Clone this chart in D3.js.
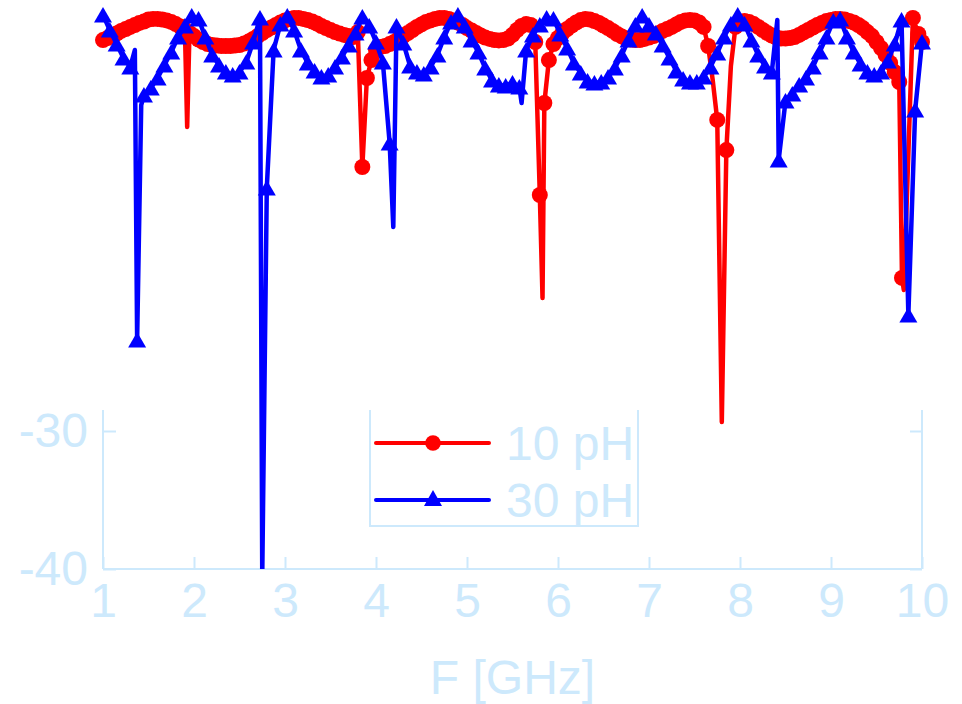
<!DOCTYPE html>
<html><head><meta charset="utf-8">
<script src="https://cdn.jsdelivr.net/npm/d3@7"></script>
<style>html,body{margin:0;padding:0;background:#fff;} svg{display:block;}</style>
</head><body>
<svg id="chart" width="962" height="704"></svg>
<script>
// ---------- data ----------
const xTicks = [1,2,3,4,5,6,7,8,9,10];
const yTicks = [-30,-40];
const seriesNames = ["10 pH","30 pH"];
const xLabel = "F [GHz]";

// 10 pH : [frequency GHz, dB]
const s10 = [
[1.00,-1.67],[1.05,-1.52],[1.10,-1.34],[1.15,-1.20],[1.20,-1.01],[1.25,-0.87],[1.30,-0.72],[1.35,-0.58],[1.40,-0.43],[1.45,-0.33],
[1.50,-0.18],[1.55,-0.14],[1.60,-0.14],[1.65,-0.18],[1.70,-0.25],[1.75,-0.36],[1.80,-0.51],[1.85,-0.69],[1.90,-0.91],[1.925,-7.97],[1.95,-1.16],
[2.00,-1.38],[2.05,-1.63],[2.10,-1.81],[2.15,-1.96],[2.20,-2.03],[2.25,-2.07],[2.30,-2.10],[2.35,-2.10],[2.40,-2.10],[2.45,-2.07],
[2.50,-2.03],[2.55,-1.92],[2.60,-1.78],[2.65,-1.59],[2.70,-1.38],[2.75,-1.16],[2.80,-0.94],[2.85,-0.76],[2.90,-0.58],[2.95,-0.40],
[3.00,-0.25],[3.05,-0.14],[3.10,-0.07],[3.15,-0.07],[3.20,-0.14],[3.25,-0.22],[3.30,-0.33],[3.35,-0.47],[3.40,-0.65],[3.45,-0.80],
[3.50,-0.94],[3.55,-1.09],[3.60,-1.20],[3.65,-1.30],[3.70,-1.38],[3.75,-1.45],[3.80,-1.09],[3.85,-10.87],[3.90,-4.42],[3.95,-3.12],
[4.00,-2.39],[4.05,-2.17],[4.10,-2.10],[4.15,-1.96],[4.20,-1.81],[4.25,-1.59],[4.30,-1.38],[4.35,-1.16],[4.40,-0.94],[4.45,-0.72],
[4.50,-0.54],[4.55,-0.36],[4.60,-0.25],[4.65,-0.14],[4.70,-0.07],[4.75,-0.07],[4.80,-0.14],[4.85,-0.25],[4.90,-0.40],[4.95,-0.58],
[5.00,-0.80],[5.05,-0.98],[5.10,-1.16],[5.15,-1.34],[5.20,-1.49],[5.25,-1.59],[5.30,-1.67],[5.35,-1.70],[5.40,-1.67],[5.45,-1.56],
[5.50,-1.30],[5.55,-0.94],[5.60,-0.65],[5.65,-0.51],[5.70,-0.58],[5.75,-1.81],[5.80,-12.90],[5.83,-20.36],[5.85,-6.23],[5.90,-3.12],[5.95,-1.96],
[6.00,-1.52],[6.05,-1.16],[6.10,-0.87],[6.15,-0.62],[6.20,-0.40],[6.25,-0.22],[6.30,-0.14],[6.35,-0.18],[6.40,-0.29],[6.45,-0.43],
[6.50,-0.62],[6.55,-0.80],[6.60,-1.01],[6.65,-1.23],[6.70,-1.41],[6.75,-1.56],[6.80,-1.63],[6.85,-1.67],[6.90,-1.67],[6.95,-1.59],
[7.00,-1.49],[7.05,-1.38],[7.10,-1.20],[7.15,-1.01],[7.20,-0.87],[7.25,-0.72],[7.30,-0.54],[7.35,-0.36],[7.40,-0.25],[7.45,-0.22],
[7.50,-0.25],[7.55,-0.40],[7.60,-0.72],[7.65,-2.10],[7.70,-4.57],[7.75,-7.46],[7.80,-29.35],[7.85,-9.64],[7.90,-3.55],[7.95,-0.72],
[8.00,-0.43],[8.05,-0.29],[8.10,-0.36],[8.15,-0.51],[8.20,-0.72],[8.25,-0.94],[8.30,-1.16],[8.35,-1.34],[8.40,-1.49],[8.45,-1.56],
[8.50,-1.56],[8.55,-1.52],[8.60,-1.45],[8.65,-1.30],[8.70,-1.12],[8.75,-0.94],[8.80,-0.76],[8.85,-0.58],[8.90,-0.43],[8.95,-0.29],
[9.00,-0.22],[9.05,-0.14],[9.10,-0.14],[9.15,-0.18],[9.20,-0.29],[9.25,-0.40],[9.30,-0.58],[9.35,-0.80],[9.40,-1.09],[9.45,-1.38],
[9.50,-1.81],[9.55,-2.25],[9.60,-2.75],[9.65,-3.33],[9.70,-3.99],[9.75,-4.71],[9.78,-18.91],[9.80,-19.78],[9.90,-0.07],[9.96,-1.23],[10.00,-1.81]
];
// frequencies on the 10 pH line that carry no marker
const s10NoMarker = [1.925, 5.83, 7.70, 7.80, 7.90, 9.80];

// 30 pH : [frequency GHz, dB]
const s30 = [
[1.000,0.14],[1.075,-0.94],[1.150,-1.96],[1.225,-2.97],[1.300,-3.62],[1.35,-2.39],[1.375,-23.41],[1.42,-6.38],[1.450,-5.65],[1.525,-5.14],
[1.600,-4.42],[1.675,-3.48],[1.750,-2.54],[1.825,-1.45],[1.900,-0.65],[1.975,0.07],[2.050,-0.14],[2.125,-1.45],[2.200,-2.75],[2.275,-3.48],
[2.350,-3.99],[2.425,-4.20],[2.500,-3.99],[2.575,-3.26],[2.650,-1.81],[2.725,-0.07],[2.75,-40.5],[2.800,-12.39],[2.875,-2.39],[2.950,-0.51],
[3.025,0.07],[3.100,-0.94],[3.175,-2.39],[3.250,-3.33],[3.325,-3.91],[3.400,-4.35],[3.475,-4.20],[3.550,-3.62],[3.625,-2.90],[3.700,-2.03],
[3.775,-1.16],[3.850,0.00],[3.925,-0.65],[4.000,-1.81],[4.075,-3.26],[4.150,-9.13],[4.19,-15.22],[4.225,-0.65],[4.300,-1.88],[4.375,-3.55],
[4.450,-3.99],[4.525,-4.13],[4.600,-3.62],[4.675,-2.75],[4.750,-1.45],[4.825,-0.36],[4.900,0.14],[4.975,-0.65],[5.050,-1.67],[5.125,-2.54],
[5.200,-3.70],[5.275,-4.57],[5.350,-4.93],[5.425,-5.00],[5.500,-4.78],[5.575,-5.07],[5.60,-6.23],[5.650,-2.39],[5.725,-1.30],[5.800,-0.58],
[5.875,-0.07],[5.950,-0.14],[6.025,-1.23],[6.100,-2.25],[6.175,-3.33],[6.250,-4.06],[6.325,-4.64],[6.400,-4.78],[6.475,-4.71],[6.550,-4.35],
[6.625,-3.70],[6.700,-2.75],[6.775,-1.67],[6.850,-0.58],[6.925,0.07],[7.000,-0.58],[7.075,-1.16],[7.150,-2.03],[7.225,-2.97],[7.300,-3.91],
[7.375,-4.49],[7.450,-4.71],[7.525,-4.71],[7.600,-4.35],[7.675,-3.62],[7.750,-2.61],[7.825,-1.45],[7.900,-0.51],[7.975,0.14],[8.050,-0.51],
[8.125,-1.67],[8.200,-2.75],[8.275,-3.55],[8.350,-3.99],[8.41,-0.22],[8.425,-10.36],[8.500,-6.09],[8.575,-5.58],[8.650,-4.93],[8.725,-4.42],
[8.800,-3.62],[8.875,-2.54],[8.950,-1.45],[9.025,-0.29],[9.100,-0.14],[9.175,-1.45],[9.250,-2.54],[9.325,-3.41],[9.400,-3.99],[9.475,-4.20],
[9.550,-3.99],[9.625,-3.19],[9.700,-1.96],[9.775,-0.22],[9.850,-21.59],[9.925,-6.74],[10.000,-1.81]
];
const s30NoMarker = [1.35, 1.42, 2.75, 4.19, 5.60, 8.41];

// ---------- drawing ----------
const svg = d3.select("#chart");
const axisColor = "#cde9fc";
const font = "'Liberation Sans', Arial, Helvetica, sans-serif";
const fs = 48;

const x = d3.scaleLinear().domain([1,10]).range([103,922]);
const y = d3.scaleLinear().domain([-40,-30]).range([569,431]);
const frameTop = 410;

// axes (frame only visible in the lower part, as in the reference)
const gA = svg.append("g");
gA.append("line").attr("x1",x(1)).attr("x2",x(1)).attr("y1",frameTop).attr("y2",y(-40));
gA.append("line").attr("x1",x(10)).attr("x2",x(10)).attr("y1",frameTop).attr("y2",y(-40));
gA.selectAll("line").attr("stroke",axisColor).attr("stroke-width",2);

const xAxis = d3.axisBottom(x).tickValues(xTicks).tickFormat(d3.format("d"))
  .tickSizeInner(-12).tickSizeOuter(0).tickPadding(14);
const gx = svg.append("g").attr("transform",`translate(0,${y(-40)})`).call(xAxis);
const yAxis = d3.axisLeft(y).tickValues(yTicks).tickFormat(d=>d)
  .tickSizeInner(-13).tickSizeOuter(0).tickPadding(15);
const gy = svg.append("g").attr("transform",`translate(${x(1)},0)`).call(yAxis);
const yAxisR = d3.axisRight(y).tickValues(yTicks).tickFormat("")
  .tickSizeInner(-12).tickSizeOuter(0);
const gyr = svg.append("g").attr("transform",`translate(${x(10)},0)`).call(yAxisR);
[gx,gy,gyr].forEach(g=>{
  g.select(".domain").attr("stroke",axisColor).attr("stroke-width",2);
  g.selectAll(".tick line").attr("stroke",axisColor).attr("stroke-width",2);
  g.selectAll(".tick text").attr("fill",axisColor).style("font-family",font).style("font-size",fs+"px");
});
gy.select(".domain").remove();
gyr.select(".domain").remove();
gx.select(".domain").attr("d",`M${x(1)},0H${x(10)}`);

svg.append("text").attr("x",(x(1)+x(10))/2).attr("y",694).attr("text-anchor","middle")
  .attr("fill",axisColor).style("font-family",font).style("font-size",fs+"px").text(xLabel);

// clip at the bottom of the plot
svg.append("clipPath").attr("id","clip").append("rect")
  .attr("x",0).attr("y",0).attr("width",962).attr("height",y(-40));

const line = d3.line().x(d=>x(d[0])).y(d=>y(d[1]));
const triPath = "M0,-8L9,7.5L-9,7.5Z";
const isNo = (list,f)=>list.some(v=>Math.abs(v-f)<1e-6);

const plot = svg.append("g").attr("clip-path","url(#clip)");
function drawSeries(data,noMark,color,type){
  plot.append("path").datum(data).attr("d",line).attr("fill","none")
    .attr("stroke",color).attr("stroke-width",4.5).attr("stroke-linejoin","round").attr("stroke-linecap","round");
  const pts = data.filter(d=>!isNo(noMark,d[0]));
  if(type==="circle"){
    plot.append("g").selectAll("circle").data(pts).join("circle")
      .attr("cx",d=>x(d[0])).attr("cy",d=>y(d[1])).attr("r",8).attr("fill",color);
  } else {
    plot.append("g").selectAll("path").data(pts).join("path")
      .attr("d",triPath).attr("transform",d=>`translate(${x(d[0])},${y(d[1])})`).attr("fill",color);
  }
}
drawSeries(s10,s10NoMarker,"#ff0000","circle");
drawSeries(s30,s30NoMarker,"#0000ff","tri");

// legend
const lg = svg.append("g");
const lx0=370, lx1=638, lBottom=526;
lg.append("path").attr("d",`M${lx0},${frameTop}V${lBottom}H${lx1}V${frameTop}`)
  .attr("fill","none").attr("stroke",axisColor).attr("stroke-width",2);
const legendItems = [
  {name:seriesNames[0], color:"#ff0000", type:"circle", y:443},
  {name:seriesNames[1], color:"#0000ff", type:"tri", y:500}
];
legendItems.forEach(it=>{
  lg.append("line").attr("x1",376).attr("x2",489).attr("y1",it.y).attr("y2",it.y)
    .attr("stroke",it.color).attr("stroke-width",4).attr("stroke-linecap","round");
  if(it.type==="circle"){
    lg.append("circle").attr("cx",433).attr("cy",it.y).attr("r",7.8).attr("fill",it.color);
  } else {
    lg.append("path").attr("d","M0,-8L9,8L-9,8Z").attr("transform",`translate(433,${it.y-2})`).attr("fill",it.color);
  }
  lg.append("text").attr("x",506).attr("y",it.y+17).attr("fill",axisColor)
    .style("font-family",font).style("font-size",fs+"px").text(it.name);
});
</script>
</body></html>
